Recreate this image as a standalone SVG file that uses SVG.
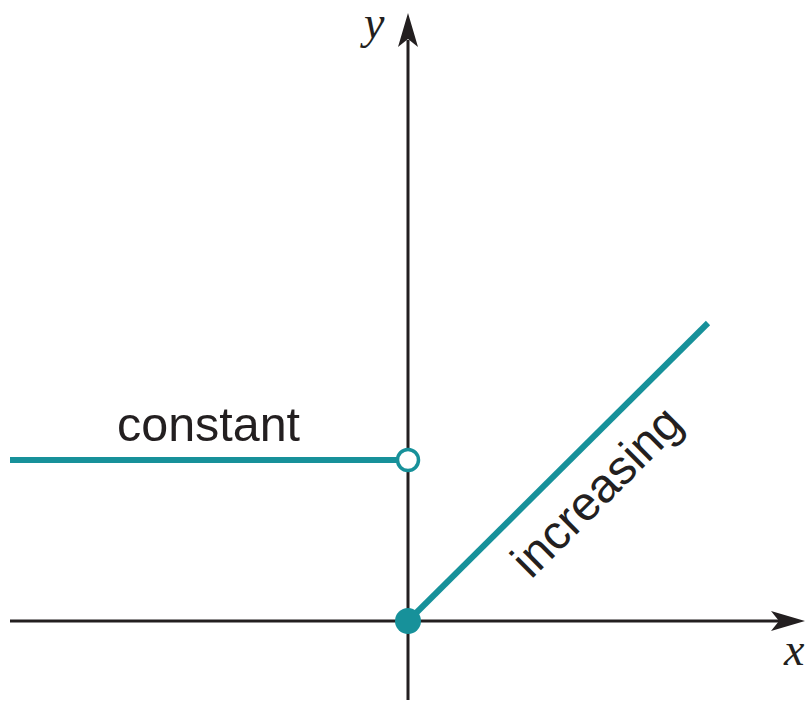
<svg xmlns="http://www.w3.org/2000/svg" width="809" height="702" viewBox="0 0 809 702">
<style>
.axis{stroke:#231f20;stroke-width:3;fill:none}
.teal{stroke:#17919a;stroke-width:6;fill:none}
.lbl{font-family:"Liberation Sans",Arial,sans-serif;font-size:48px;fill:#231f20}
.var{font-family:"Liberation Serif","Times New Roman",serif;font-style:italic;font-size:46px;fill:#231f20}
</style>
<defs>
<path id="ah" d="M0,0 L-34,-10 L-26,0 L-34,10 Z" fill="#231f20"/>
</defs>
<rect width="809" height="702" fill="#fff"/>
<g id="axes">
<line class="axis" x1="408" y1="700" x2="408" y2="40"/>
<line class="axis" x1="10" y1="621" x2="780" y2="621"/>
<use href="#ah" transform="translate(408,13) rotate(-90)"/>
<use href="#ah" transform="translate(805,621)"/>
<text class="var" x="364" y="38">y</text>
<text class="var" x="784" y="665">x</text>
</g>
<g id="connectors">
<line class="teal" x1="10" y1="460" x2="397" y2="460"/>
<line class="teal" x1="408" y1="621" x2="708" y2="323" stroke-linecap="butt"/>
</g>
<g id="open-point">
<circle cx="408" cy="460" r="10.5" fill="#fff" stroke="#17919a" stroke-width="3.5"/>
</g>
<g id="closed-point">
<circle cx="408" cy="621" r="13" fill="#17919a"/>
</g>
<g id="label-constant">
<text class="lbl" x="117" y="441" textLength="183" lengthAdjust="spacingAndGlyphs">constant</text>
</g>
<g id="label-increasing">
<text class="lbl" transform="translate(531,580) rotate(-45)" textLength="218" lengthAdjust="spacingAndGlyphs">increasing</text>
</g>
</svg>
